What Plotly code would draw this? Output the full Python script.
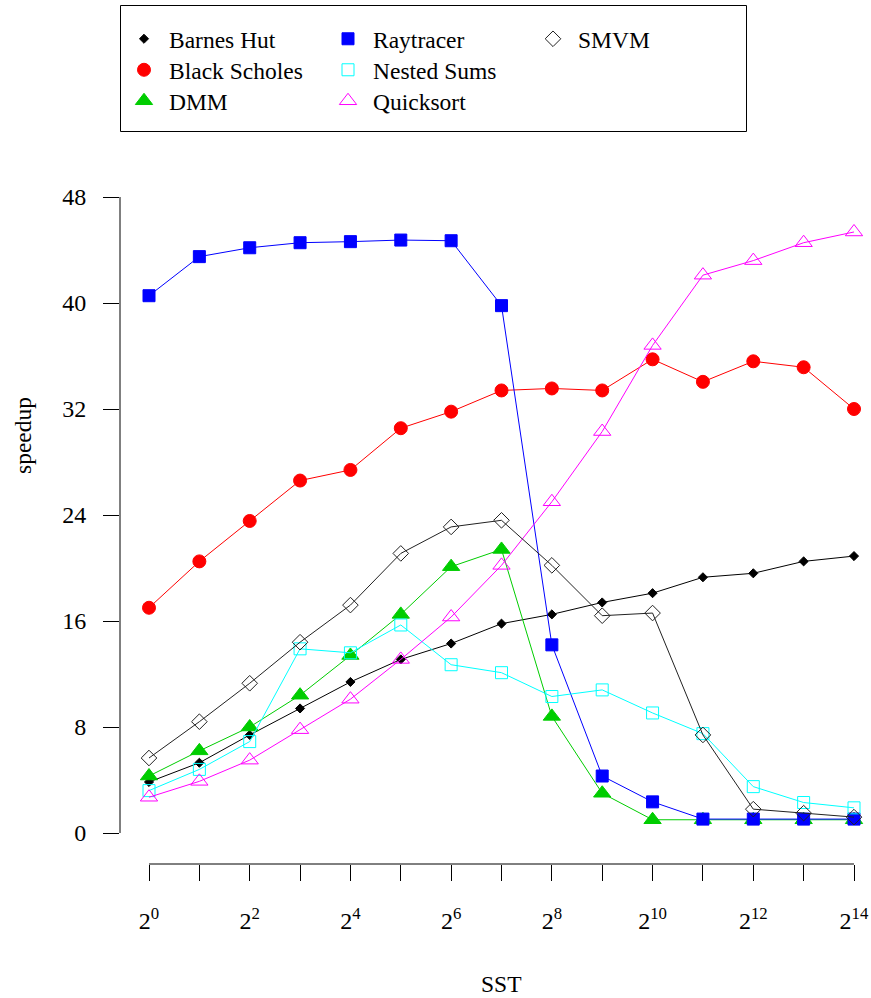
import plotly.graph_objects as go

# ---- data ----
sst_exp = list(range(15))  # SST = 2^0 .. 2^14
barnes_hut = [3.85, 5.3, 7.4, 9.4, 11.4, 13.1, 14.3, 15.8, 16.5, 17.4, 18.1, 19.3, 19.6, 20.5, 20.9]
black_scholes = [17.0, 20.5, 23.55, 26.6, 27.4, 30.55, 31.8, 33.4, 33.55, 33.4, 35.75, 34.05, 35.6, 35.15, 32.0]
dmm = [4.3, 6.2, 8.0, 10.4, 13.4, 16.5, 20.1, 21.4, 8.8, 3.0, 1.0, 1.0, 1.0, 1.0, 1.0]
raytracer = [40.55, 43.5, 44.17, 44.55, 44.63, 44.75, 44.7, 39.8, 14.2, 4.3, 2.35, 1.05, 1.05, 1.05, 1.05]
nested_sums = [3.2, 4.8, 6.9, 13.9, 13.6, 15.7, 12.7, 12.1, 10.3, 10.8, 9.06, 7.5, 3.5, 2.3, 1.9]
quicksort = [2.7, 3.9, 5.5, 7.8, 10.1, 13.1, 16.3, 20.2, 25.0, 30.3, 36.8, 42.1, 43.2, 44.55, 45.36]
smvm = [5.66, 8.4, 11.3, 14.4, 17.2, 21.1, 23.1, 23.6, 20.2, 16.4, 16.6, 7.4, 1.8, 1.5, 1.2]

y_ticks = [0, 8, 16, 24, 32, 40, 48]
x_major_ticks = [0, 2, 4, 6, 8, 10, 12, 14]
x_minor_ticks = [1, 3, 5, 7, 9, 11, 13]
x_ticktext = ["2<sup>%d</sup>" % i for i in x_major_ticks]

FONT = "Liberation Serif, Times New Roman, Times, DejaVu Serif, serif"

series = [
    # name, values, color, symbol, size
    ("Barnes Hut", barnes_hut, "#000000", "diamond", 7),
    ("Black Scholes", black_scholes, "#FF0000", "circle", 13),
    ("DMM", dmm, "#00CD00", "triangle-up", 15),
    ("Raytracer", raytracer, "#0000FF", "square", 12),
    ("Nested Sums", nested_sums, "#00FFFF", "square-open", 12),
    ("Quicksort", quicksort, "#FF00FF", "triangle-up-open", 15),
    ("SMVM", smvm, "#222222", "diamond-open", 12),
]

W, H = 871, 998
L, R, T, B = 120, 0, 5, 134
pw, ph = W - L - R, H - T - B

def px_x(p):
    return (p - L) / pw

def px_y(p):
    return (H - B - p) / ph

# legend layout: 3 columns (column-major, like the original), one legend per entry
col_sym_x = [144, 348, 553]
row_y = [40, 71, 102]

fig = go.Figure()
for name, vals, color, sym, size in series:
    fig.add_trace(go.Scatter(
        x=sst_exp, y=vals, mode="lines+markers", name=name, showlegend=False,
        line=dict(color=color, width=1),
        marker=dict(symbol=sym, size=size, color=color, line=dict(color=color, width=1)),
        cliponaxis=False,
    ))

legends = {}
for i, (name, vals, color, sym, size) in enumerate(series):
    key = "legend" if i == 0 else "legend%d" % (i + 1)
    col, row = divmod(i, 3)
    fig.add_trace(go.Scatter(
        x=[None], y=[None], mode="markers", name=name, legend=key,
        marker=dict(symbol=sym, size=size, color=color, line=dict(color=color, width=1)),
    ))
    legends[key] = dict(
        x=px_x(col_sym_x[col] - 25), y=px_y(row_y[row] - 23),
        font=dict(family=FONT, size=23.5, color="black"), bgcolor="rgba(0,0,0,0)",
        borderwidth=0, itemwidth=40, yanchor="top", xanchor="left", itemclick=False,
    )

px_per_x = (854 - 149) / 14.0
px_per_y = (833 - 197) / 48.0
x_range = [-(149 - L) / px_per_x, (W - R - 149) / px_per_x]
y_range = [-(H - B - 833) / px_per_y, (833 - T) / px_per_y]

fig.update_layout(
    width=W, height=H,
    margin=dict(l=L, r=R, t=T, b=B),
    paper_bgcolor="white", plot_bgcolor="white",
    font=dict(family=FONT, size=23.5, color="black"),
    xaxis=dict(range=x_range, tickvals=x_major_ticks, ticktext=x_ticktext, ticks="outside",
               ticklen=16, tickwidth=1, tickcolor="black", showgrid=False, zeroline=False,
               showline=False, ticklabelstandoff=19,
               tickfont=dict(family=FONT, size=24, color="black"),
               minor=dict(tickvals=x_minor_ticks, ticks="outside", ticklen=16, tickwidth=1,
                          tickcolor="black", showgrid=False)),
    yaxis=dict(range=y_range, tickvals=y_ticks, ticks="outside", ticklen=16, tickwidth=1,
               tickcolor="black", showgrid=False, zeroline=False, showline=False,
               ticklabelstandoff=12, tickfont=dict(family=FONT, size=24, color="black")),
    shapes=[
        dict(type="line", xref="paper", yref="y", x0=0, x1=0, y0=0, y1=48,
             line=dict(color="black", width=1)),
        dict(type="line", xref="x", yref="paper", x0=0, x1=14, y0=0, y1=0,
             line=dict(color="black", width=1)),
        dict(type="rect", xref="paper", yref="paper", x0=px_x(120.5), x1=px_x(746.5),
             y0=px_y(131.5), y1=px_y(5.5), line=dict(color="black", width=1)),
    ],
    annotations=[
        dict(text="SST", xref="x", yref="paper", x=7, y=px_y(984), showarrow=False,
             xanchor="center", yanchor="middle", font=dict(family=FONT, size=23.5)),
        dict(text="speedup", xref="paper", yref="paper", x=px_x(23), y=px_y(435),
             textangle=-90, showarrow=False, xanchor="center", yanchor="middle",
             font=dict(family=FONT, size=23.5)),
    ],
)
fig.update_layout(**legends)

fig.write_html("out.html", config={"displayModeBar": False},
               post_script="document.body.style.margin='0';")
